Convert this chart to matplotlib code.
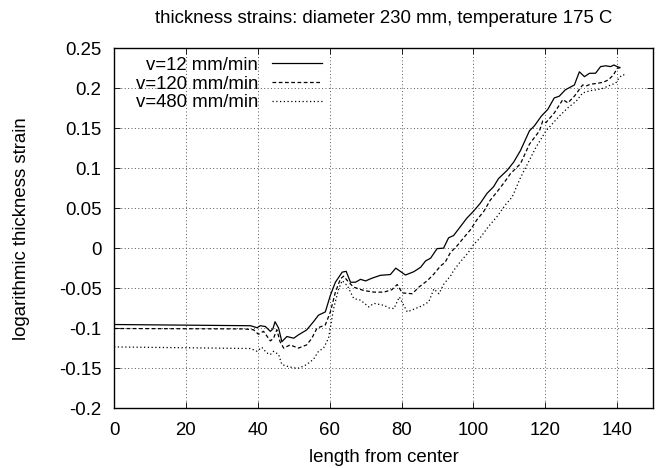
import matplotlib
matplotlib.use("Agg")
import matplotlib.pyplot as plt

plt.rcParams['font.family'] = ['Liberation Sans', 'DejaVu Sans']

title = "thickness strains: diameter 230 mm, temperature 175 C"
xlabel = "length from center"
ylabel = "logarithmic thickness strain"
labels = ["v=12 mm/min", "v=120 mm/min", "v=480 mm/min"]

x_12 = [0, 38, 39.8, 40.7, 42.1, 43.5, 44.2, 44.8, 45.8, 46.7, 48.1, 50, 51.3, 53.6,
        55.5, 56.9, 58.8, 60.2, 61.6, 63.5, 64.6, 65.8, 67.2, 68.6, 70, 71.7, 74.1,
        76.9, 78.4, 81.1, 83.4, 85.3, 86.7, 88.1, 89.9, 91.7, 93.1, 94.5, 96.4, 98.2,
        100, 101.9, 103.8, 105.6, 107, 109.4, 111.2, 113.1, 115.6, 117, 118.9, 120.7,
        122.5, 123.9, 125.6, 128.1, 129.5, 130.9, 132.3, 134, 135.4, 136.8, 138.2,
        139.1, 140, 140.7]
y_12 = [-0.0955, -0.097, -0.0995, -0.097, -0.098, -0.104, -0.101, -0.092, -0.100, -0.117,
        -0.1105, -0.1126, -0.1085, -0.1023, -0.092, -0.0838, -0.0797, -0.059, -0.0426,
        -0.030, -0.029, -0.0426, -0.0426, -0.039, -0.041, -0.0377, -0.034, -0.033, -0.025,
        -0.0336, -0.0295, -0.024, -0.016, -0.0125, -0.0006, 0.0, 0.0129, 0.0158, 0.027,
        0.0376, 0.046, 0.056, 0.0685, 0.0767, 0.087, 0.0973, 0.1075, 0.122, 0.1467, 0.153,
        0.165, 0.1735, 0.1878, 0.190, 0.198, 0.204, 0.2205, 0.2144, 0.2186, 0.2187, 0.227,
        0.228, 0.227, 0.229, 0.227, 0.226]

x_120 = [0, 36, 38.8, 40.2, 41.6, 43.5, 44.4, 45.3, 46.2, 47.2, 49, 51.3, 53.6, 55,
         56.5, 58.8, 60.2, 61.6, 63, 63.9, 65.3, 66.7, 69.5, 72.3, 75.1, 77.3, 78.8,
         80.2, 83, 84.8, 87.2, 89, 90.9, 92.1, 93.6, 95.4, 97.3, 99.2, 101, 102.9,
         104.7, 106.6, 108.4, 110.3, 113.1, 115.6, 118.4, 119.3, 120.2, 122.5, 124.9,
         126.3, 128.1, 130.4, 131.5, 132.6, 134.4, 136.2, 137.6, 139, 140, 141.2]
y_120 = [-0.1005, -0.101, -0.102, -0.1077, -0.104, -0.116, -0.1126, -0.102, -0.117, -0.125,
         -0.121, -0.125, -0.121, -0.113, -0.100, -0.096, -0.0797, -0.055, -0.0385, -0.035,
         -0.0426, -0.0488, -0.053, -0.055, -0.055, -0.052, -0.0455, -0.056, -0.057, -0.0488,
         -0.0406, -0.0324, -0.022, -0.018, -0.0056, 0.0026, 0.013, 0.023, 0.0356, 0.046,
         0.060, 0.0705, 0.081, 0.093, 0.1055, 0.130, 0.1467, 0.159, 0.157, 0.169, 0.1858,
         0.1816, 0.190, 0.204, 0.203, 0.205, 0.206, 0.2075, 0.2105, 0.2167, 0.2248, 0.226]

x_480 = [0, 38, 39.8, 41.1, 42.5, 43.5, 44.4, 45.8, 46.7, 48.1, 50, 51.3, 52.7, 53.6,
         55.5, 56.9, 58.3, 59.7, 61.1, 62.5, 63.5, 64.9, 66.7, 68.6, 70.9, 72.3, 74.1,
         75.1, 76.5, 77.9, 79.4, 80.2, 81.6, 83.4, 85.8, 87.6, 89, 90.4, 91.8, 93.7,
         94.5, 96.2, 98.5, 100, 101.9, 104.2, 106.6, 108.9, 110.8, 113.1, 117.4, 120.2,
         123.9, 126.3, 128.6, 130.4, 132.6, 134.4, 136.2, 138.2, 139.6, 140.5, 141.4, 142.3]
y_480 = [-0.1235, -0.1255, -0.129, -0.124, -0.131, -0.133, -0.129, -0.133, -0.1455, -0.1476,
         -0.1497, -0.150, -0.1476, -0.1455, -0.139, -0.129, -0.125, -0.1126, -0.0756, -0.051,
         -0.0406, -0.0468, -0.063, -0.065, -0.0735, -0.069, -0.0706, -0.0715, -0.0747, -0.0756,
         -0.061, -0.068, -0.0797, -0.0764, -0.072, -0.067, -0.051, -0.057, -0.0447, -0.0344,
         -0.028, -0.018, -0.006, 0.004, 0.013, 0.027, 0.0396, 0.054, 0.064, 0.088, 0.126,
         0.1467, 0.165, 0.1755, 0.1837, 0.194, 0.197, 0.198, 0.200, 0.204, 0.2063, 0.2125,
         0.2167, 0.2167]

xticks = [0, 20, 40, 60, 80, 100, 120, 140]
yticks = [-0.2, -0.15, -0.1, -0.05, 0, 0.05, 0.1, 0.15, 0.2, 0.25]
ytick_labels = ["-0.2", "-0.15", "-0.1", "-0.05", "0", "0.05", "0.1", "0.15", "0.2", "0.25"]

FS = 13.4

fig = plt.figure(figsize=(6.63, 4.68), dpi=100)
ax = fig.add_axes([0.172, 0.128, 0.813, 0.769])

lw = 0.9
ax.plot(x_12, y_12, color='black', lw=lw, linestyle='-', label=labels[0])
ax.plot(x_120, y_120, color='black', lw=lw, linestyle=(0, (3, 2)), label=labels[1])
ax.plot(x_480, y_480, color='black', lw=lw, linestyle=(0, (1, 2)), label=labels[2])

ax.set_xlim(0, 150)
ax.set_ylim(-0.2, 0.25)
ax.set_xticks(xticks)
ax.set_yticks(yticks)
ax.set_yticklabels(ytick_labels)
ax.tick_params(direction='in', top=True, right=True, length=4, width=0.6,
               labelsize=FS)
ax.tick_params(axis='y', pad=9)
ax.tick_params(axis='x', pad=10)
ax.grid(True, color='#555555', linestyle=(0, (1, 2.5)), linewidth=0.7)
for s in ax.spines.values():
    s.set_linewidth(1.0)

ax.set_title(title, fontsize=FS, pad=18)
ax.set_xlabel(xlabel, fontsize=FS, labelpad=7)
ax.set_ylabel(ylabel, fontsize=FS, labelpad=21)

leg = ax.legend(loc='upper right', frameon=False, markerfirst=False, fontsize=FS,
                handlelength=2.65, handletextpad=0.75, labelspacing=0.08,
                borderpad=0.2, borderaxespad=0.0, bbox_to_anchor=(0.392, 0.986))

fig.savefig("out.png", dpi=100)
